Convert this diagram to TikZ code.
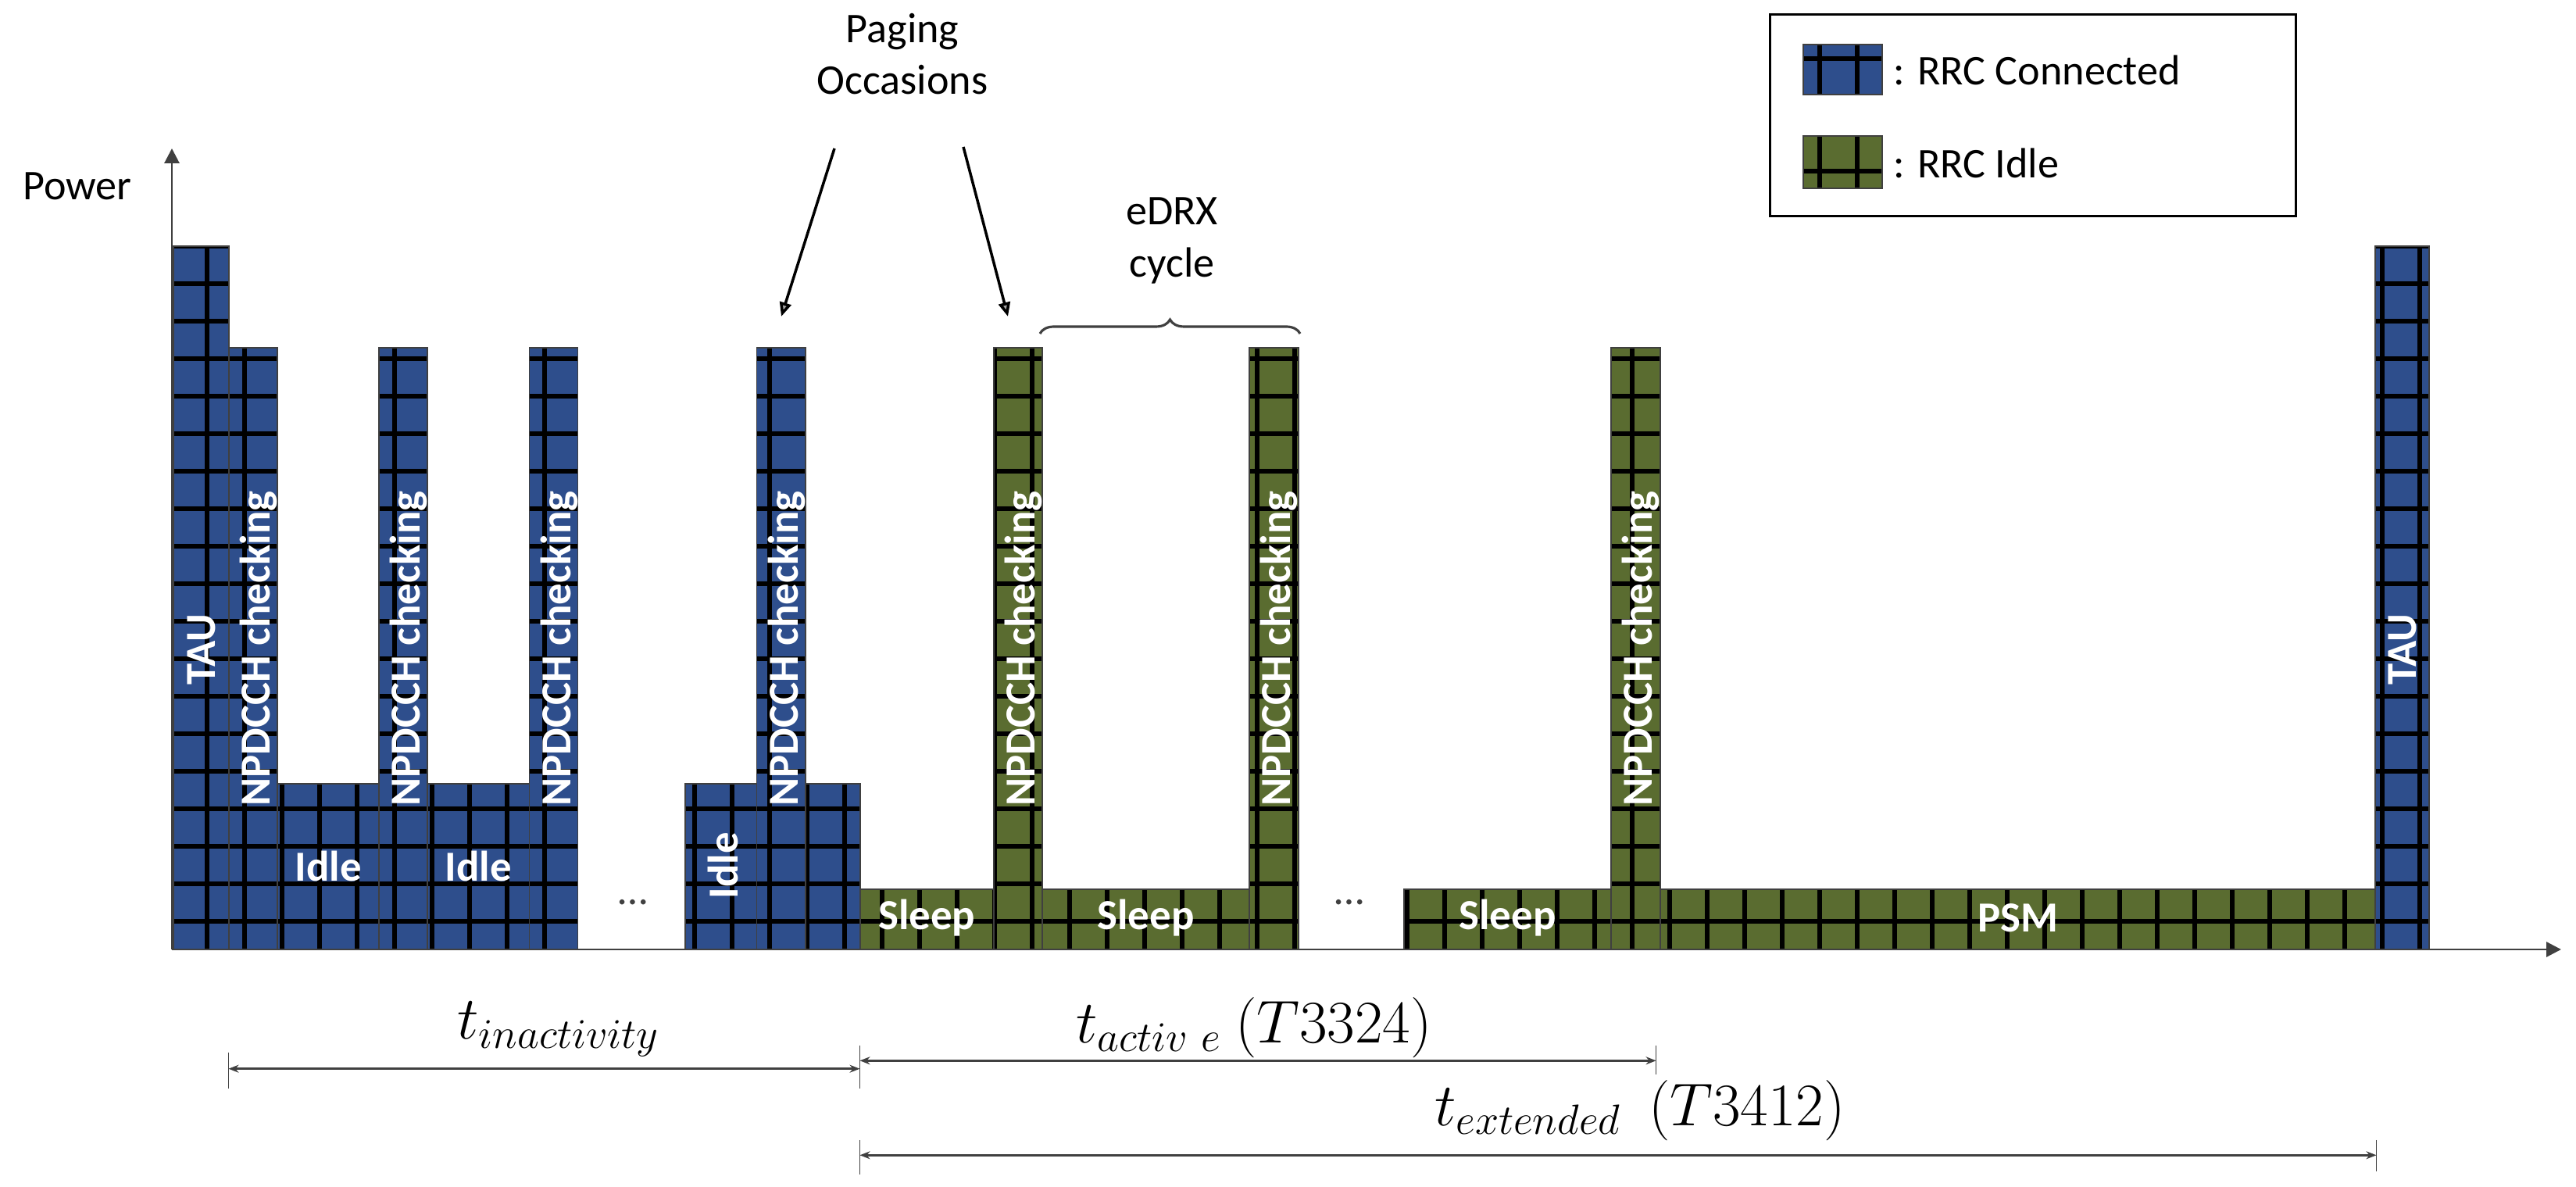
\documentclass[tikz,border=0pt]{standalone}
\usepackage{fix-cm}
\usepackage[no-math]{fontspec}
\setmainfont{Carlito}
\usetikzlibrary{arrows.meta, decorations.pathreplacing}
\definecolor{connblue}{HTML}{2E4E8C}
\definecolor{idlegreen}{HTML}{5A6C30}
\definecolor{axisgray}{HTML}{404040}

\begin{document}
\begin{tikzpicture}[font=\fontsize{15.4}{19}\selectfont,
  axis/.style={draw=axisgray,line width=0.85pt,-{Triangle[length=0.19cm,width=0.19cm]}},
  gridline/.style={black,line width=1.6pt},
  blockline/.style={draw=axisgray,line width=0.5pt},
  state label/.style={text=white,font=\fontsize{15.6}{19}\selectfont\bfseries},
  pointer/.style={black,line width=1pt,-{Triangle[length=0.18cm,width=0.15cm,fill=gray!70]}},
  dim/.style={draw=axisgray,line width=1pt,{Stealth[length=0.13cm,width=0.1cm]}-{Stealth[length=0.13cm,width=0.1cm]}},
  dimtick/.style={draw=axisgray,line width=0.45pt},
  timer/.style={font=\fontsize{22}{26}\selectfont}]
  \useasboundingbox (-2.20,-3.04) rectangle (30.77,12.15);

  \foreach \xa/\ya/\xb/\yb/\col in {0.02/0/0.73/9.00/connblue, 0.73/0/1.35/7.70/connblue,
      1.35/0/2.65/2.12/connblue, 2.65/0/3.27/7.70/connblue, 3.27/0/4.575/2.12/connblue,
      4.575/0/5.195/7.70/connblue, 6.57/0/7.486/2.12/connblue, 7.486/0/8.11/7.70/connblue,
      8.11/0/8.807/2.12/connblue, 8.807/0/10.517/0.77/idlegreen, 10.517/0/11.14/7.70/idlegreen,
      11.14/0/13.79/0.77/idlegreen, 13.79/0/14.416/7.70/idlegreen, 15.77/0/18.42/0.77/idlegreen,
      18.42/0/19.05/7.70/idlegreen, 19.05/0/28.20/0.77/idlegreen, 28.20/0/28.89/9.00/connblue,
      20.883/10.937/21.887/11.583/connblue, 20.883/9.74/21.887/10.407/idlegreen}{
    \begin{scope}
      \clip (\xa,\ya) rectangle (\xb,\yb);
      \fill[fill=\col] (\xa,\ya) rectangle (\xb,\yb);
      \draw[gridline,shift={(-0.032,0.36)},step=0.48] (-1,-1) grid (31,13);
    \end{scope}
    \draw[blockline] (\xa,\ya) rectangle (\xb,\yb);
  }

  \coordinate (O) at (0,0);
  \draw[axis] (O) -- (0,10.25);
  \draw[axis] (O) -- (30.58,0);
  \node (power) at (-1.21,9.77) {Power};

  \node[state label,rotate=90] (tau1) at (0.375,3.84) {TAU};
  \node[state label,rotate=90] (np1) at (1.11,3.85) {NPDCCH checking};
  \node[state label] (idle1) at (2.00,1.07) {Idle};
  \node[state label,rotate=90] (np2) at (3.03,3.85) {NPDCCH checking};
  \node[state label] (idle2) at (3.92,1.07) {Idle};
  \node[state label,rotate=90] (np3) at (4.955,3.85) {NPDCCH checking};
  \node[text=axisgray] (dots1) at (5.90,0.60) {\ldots};
  \node[state label,rotate=90] (idle3) at (7.05,1.07) {Idle};
  \node[state label,rotate=90] (np4) at (7.868,3.85) {NPDCCH checking};
  \node[state label] (sleep1) at (9.662,0.40) {Sleep};
  \node[state label,rotate=90] (np5) at (10.90,3.85) {NPDCCH checking};
  \node[state label] (sleep2) at (12.465,0.40) {Sleep};
  \node[state label,rotate=90] (np6) at (14.17,3.85) {NPDCCH checking};
  \node[text=axisgray] (dots2) at (15.07,0.60) {\ldots};
  \node[state label] (sleep3) at (17.095,0.40) {Sleep};
  \node[state label,rotate=90] (np7) at (18.80,3.85) {NPDCCH checking};
  \node[state label] (psm) at (23.625,0.40) {PSM};
  \node[state label,rotate=90] (tau2) at (28.545,3.84) {TAU};

  \node[align=center] (paging) at (9.35,11.46) {Paging\\Occasions};
  \coordinate (po left) at (8.48,10.25);
  \coordinate (po right) at (10.13,10.27);
  \coordinate (hit left) at (7.80,8.10);
  \coordinate (hit right) at (10.70,8.10);
  \draw[pointer] (po left) -- (hit left);
  \draw[pointer] (po right) -- (hit right);

  \coordinate (cycle a) at (11.11,7.88);
  \coordinate (cycle b) at (14.44,7.88);
  \draw[draw=axisgray,line width=0.9pt,decorate,decoration={brace,amplitude=0.18cm}] (cycle a) -- (cycle b);
  \node[align=center] (edrx) at (12.80,9.07) {eDRX\\cycle};

  \draw[line width=0.85pt] (20.45,9.38) rectangle (27.18,11.96);
  \node[anchor=west,inner sep=0pt] (leg conn) at (22.03,11.25) {: RRC Connected};
  \node[anchor=west,inner sep=0pt] (leg idle) at (22.03,10.06) {: RRC Idle};

  \coordinate (inact a) at (0.725,-1.527);
  \coordinate (inact b) at (8.805,-1.527);
  \coordinate (act a) at (8.805,-1.423);
  \coordinate (act b) at (18.996,-1.423);
  \coordinate (ext a) at (8.805,-2.633);
  \coordinate (ext b) at (28.215,-2.633);
  \draw[dimtick] (0.725,-1.317) -- (0.725,-1.777);
  \draw[dimtick] (8.805,-1.23) -- (8.805,-1.777);
  \draw[dimtick] (18.996,-1.23) -- (18.996,-1.60);
  \draw[dimtick] (8.805,-2.44) -- (8.805,-2.88);
  \draw[dimtick] (28.215,-2.44) -- (28.215,-2.84);
  \draw[dim] (inact a) -- (inact b);
  \draw[dim] (act a) -- (act b);
  \draw[dim] (ext a) -- (ext b);
  \node[timer] (t inact) at (4.95,-1.02) {$t_{inactivity}$};
  \node[timer] (t act) at (13.85,-1.00) {$t_{activ\ e}\ (T3324)$};
  \node[timer] (t ext) at (18.79,-2.06) {$t_{extended}\ \ (T3412)$};
\end{tikzpicture}
\end{document}
